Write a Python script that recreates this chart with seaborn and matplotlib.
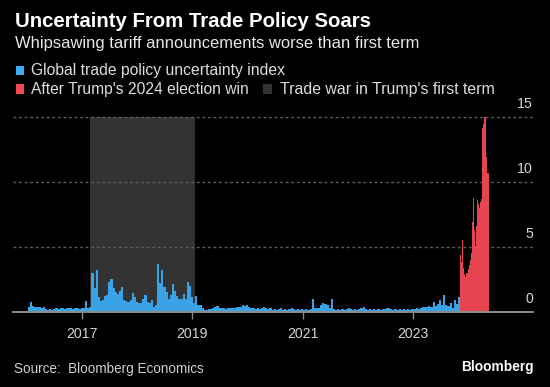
import numpy as np
import pandas as pd
import matplotlib
matplotlib.use("Agg")
import matplotlib.pyplot as plt
import matplotlib.transforms as mtransforms
from matplotlib.patches import Rectangle
import seaborn as sns

# ---------------- data ----------------
title = "Uncertainty From Trade Policy Soars"
subtitle = "Whipsawing tariff announcements worse than first term"
legend_labels = ["Global trade policy uncertainty index",
                 "After Trump's 2024 election win",
                 "Trade war in Trump's first term"]
source = "Source:  Bloomberg Economics"
brand = "Bloomberg"

tick_years = [2017, 2019, 2021, 2023]
tick_labels = ["2017", "2019", "2021", "2023"]
y_grid = [5, 10, 15]
y_labels = ["0", "5", "10", "15"]

# trade-war shading (decimal years on the chart's axis)
trade_war_start = 2017.145
trade_war_end = 2019.05

# global index, biweekly readings
blue_start = "2016-01-11"
blue_2016 = [0.35, 0.75, 0.45, 0.4, 0.35, 0.4, 0.3, 0.35, 0.2, 0.15, 0.2, 0.15, 0.2, 0.25, 0.2,
             0.3, 0.25, 0.2, 0.3, 0.25, 0.3, 0.2, 0.3, 0.25, 0.2, 0.25, 0.3, 0.85, 0.3, 0.35]
blue_war = [3.0, 1.8, 3.25, 1.15, 0.8, 0.9, 1.2, 1.3, 2.3, 2.5, 1.8, 1.5, 1.4, 1.6, 1.9, 0.9,
            0.8, 0.75, 0.9, 1.45, 1.1, 0.75, 0.65, 0.7, 1.0, 1.3, 0.75, 0.7, 0.9, 0.4, 0.5, 3.7,
            2.2, 3.25, 1.9, 1.5, 1.0, 1.3, 2.1, 1.6, 1.2, 1.0, 0.95, 1.4, 0.95, 2.3, 2.0, 1.15,
            0.65, 1.2, 0.55, 0.5, 0.25]
blue_2019 = [0.15, 0.1, 0.2, 0.2, 0.3, 0.4, 0.45, 0.3, 0.25, 0.3, 0.2, 0.25, 0.3, 0.25, 0.3,
             0.35, 0.4, 0.35, 0.5, 0.45, 0.5, 0.35, 0.25, 0.3, 0.2, 0.25, 0.2, 0.3, 0.35, 0.25,
             0.2, 0.25, 0.15, 0.2, 0.15, 0.2, 0.25]
blue_2021 = [0.15, 0.2, 0.15, 0.2, 0.25, 0.2, 0.15, 0.2, 0.15, 0.2, 0.15, 0.2, 0.15, 0.2, 0.95,
             0.3, 0.25, 0.3, 0.55, 0.65, 0.6, 0.5, 0.3, 0.95, 0.2, 0.15, 0.2, 0.15, 0.2, 0.15,
             0.2, 0.25, 0.2, 0.15, 0.2, 0.15, 0.2, 0.3, 0.35]
blue_2022 = [0.2, 0.15, 0.2, 0.15, 0.2, 0.15, 0.2, 0.15, 0.2, 0.2, 0.25, 0.25, 0.2, 0.15, 0.2,
             0.15, 0.2, 0.15, 0.2, 0.15, 0.2, 0.15, 0.2, 0.2, 0.25, 0.2, 0.25, 0.35, 0.4, 0.35,
             0.45, 0.4, 0.75, 0.45, 0.6, 0.9, 0.5, 1.3, 0.5, 0.45, 0.65, 0.3, 0.9, 0.6, 1.15]

# after the election, weekly readings
red_vals = [4.4, 3.8, 5.5, 3.4, 2.9, 2.7, 3.0, 3.3, 3.6, 4.0, 4.5, 6.9, 8.8, 6.3, 5.1, 6.6,
            8.6, 8.3, 8.0, 8.5, 8.7, 14.2, 14.5, 15.0, 11.9, 10.7, 10.7]

# ---------------- styles ----------------
BLUE = "#3aa2e6"
RED = "#e6444f"
SHADE = "#333333"
LEG_BLUE = "#3fadf5"
LEG_RED = "#f24a55"
FONT = ["Liberation Sans", "DejaVu Sans"]
W, H = 550, 387


def dec_year(d):
    d = pd.DatetimeIndex(d)
    days = np.where(d.is_leap_year, 366.0, 365.0)
    return np.asarray(d.year + (d.dayofyear - 1) / days, dtype=float)


blue_vals = blue_2016 + blue_war + blue_2019 + blue_2021 + blue_2022
blue_dates = pd.date_range(blue_start, periods=len(blue_vals) + 1, freq="14D")
red_dates = pd.date_range(blue_dates[-1], periods=len(red_vals) + 1, freq="7D")
blue_edges = dec_year(blue_dates)
red_edges = dec_year(red_dates)
blue_df = pd.DataFrame({"x": (blue_edges[:-1] + blue_edges[1:]) / 2, "w": blue_vals})
red_df = pd.DataFrame({"x": (red_edges[:-1] + red_edges[1:]) / 2, "w": red_vals})


def fx(x):
    return x / W


def fy(y):
    return 1 - y / H


fig = plt.figure(figsize=(W / 100, H / 100), dpi=100, facecolor="black")
base_px, unit_px, ytop = 311.7, 12.96, 15.6
ax = fig.add_axes([fx(13), 1 - base_px / H, 520 / W, ytop * unit_px / H])
ax.set_facecolor("black")

ax.fill_between([trade_war_start, trade_war_end], 0, 15, color=SHADE, lw=0, zorder=0.5)
for v in y_grid:
    ax.axhline(v, color="#5e5e5e", lw=1, ls=(0, (2, 2)), zorder=1)

sns.histplot(data=blue_df, x="x", weights="w", bins=blue_edges.tolist(), element="step",
             fill=True, color=BLUE, alpha=1, linewidth=0, ax=ax, zorder=3)
sns.histplot(data=red_df, x="x", weights="w", bins=red_edges.tolist(), element="step",
             fill=True, color=RED, alpha=1, linewidth=0, ax=ax, zorder=3)

ax.axhline(0, color="#8c8c8c", lw=1.4, zorder=5, clip_on=False)
ax.set_xlim(2017 + (13 - 81.7) / 55.27, 2017 + (533 - 81.7) / 55.27)
ax.set_ylim(0, ytop)
ax.set_xlabel("")
ax.set_ylabel("")
for s in ax.spines.values():
    s.set_visible(False)
ax.set_yticks([])
ax.set_xticks(tick_years)
ax.tick_params(axis="x", length=5, width=1, color="#8c8c8c", direction="out",
               labelbottom=False)

renderer = fig.canvas.get_renderer()


def put(text, x, y_base, width, weight="normal", color="#d8d8d8", ha="left",
        transform=None, size=None):
    t = fig.text(x if transform is not None else fx(x),
                 y_base if transform is not None else fy(y_base),
                 text, fontsize=10, fontweight=weight, color=color, ha=ha,
                 va="baseline", family=FONT,
                 transform=transform if transform is not None else fig.transFigure)
    if size is None:
        w = t.get_window_extent(renderer).width
        size = 10 * width / w
    t.set_fontsize(size)
    return t


put(title, 15, 26.7, 356, weight="bold", color="#ffffff")
put(subtitle, 15, 47.7, 405, color="#e8e8e8")

# legend
rows = [(75.0, 70.3, [(15.7, LEG_BLUE, legend_labels[0], 30.7, 255)]),
        (94.0, 89.0, [(15.7, LEG_RED, legend_labels[1], 30.7, 219),
                      (263.0, SHADE, legend_labels[2], 280, 215)])]
sq_w, sq_h = 8.5, 9.5
for yb, yc, items in rows:
    for sx, col, lab, tx, tw in items:
        fig.patches.append(Rectangle((fx(sx), fy(yc + sq_h / 2)), sq_w / W, sq_h / H,
                                     transform=fig.transFigure, color=col, lw=0))
        put(lab, tx, yb, tw, color="#dcdcdc")

# x tick labels
xt = mtransforms.blended_transform_factory(ax.transData, fig.transFigure)
t0 = put(tick_labels[0], tick_years[0], fy(338.5), 31.5, ha="center", transform=xt,
         color="#d4d4d4")
tick_fs = t0.get_fontsize()
for yr, lab in zip(tick_years[1:], tick_labels[1:]):
    put(lab, yr, fy(338.5), None, ha="center", transform=xt, color="#d4d4d4", size=tick_fs)

# y labels on the right, above gridlines
yt = ax.get_yaxis_transform()
for v, lab in zip([0] + y_grid, y_labels):
    put(lab, 1.0, v + 9 / unit_px, None, ha="right", transform=yt, color="#d4d4d4",
        size=tick_fs)

put(source, 14, 373, 190, color="#cfcfcf")
put(brand, 534, 371, 73, weight="bold", color="#ffffff", ha="right")

fig.savefig("out.png", dpi=100, facecolor="black")
